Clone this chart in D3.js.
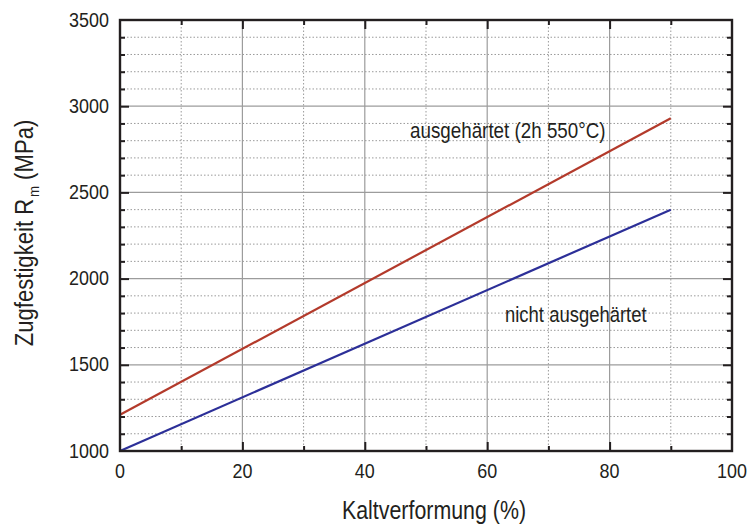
<!DOCTYPE html>
<html>
<head>
<meta charset="utf-8">
<script src="https://cdn.jsdelivr.net/npm/d3@7"></script>
<style>
  html, body { margin: 0; padding: 0; background: #fff; }
  svg { display: block; }
  text { font-family: "Liberation Sans", Arial, sans-serif; fill: #231f20; }
</style>
</head>
<body>
<svg id="chart" width="748" height="524"></svg>
<script>
// ---- data ----
const strain = [0, 90];                    // Kaltverformung (%)
const hardened = [1210, 2930];             // ausgehärtet (2h 550°C)
const notHardened = [1000, 2400];          // nicht ausgehärtet
const xTickLabels = [0, 20, 40, 60, 80, 100];
const yTickLabels = [1000, 1500, 2000, 2500, 3000, 3500];
const xMinorTicks = [10, 30, 50, 70, 90];
const yMinorTicks = d3.range(1100, 3500, 100).filter(v => v % 500 !== 0);
const xMajorInner = [20, 40, 60, 80];
const yMajorInner = [1500, 2000, 2500, 3000];

const svg = d3.select("#chart");
const L = 120, R = 732, T = 20, B = 451;
const x = d3.scaleLinear().domain([0, 100]).range([L, R]);
const y = d3.scaleLinear().domain([1000, 3500]).range([B, T]);
const SX = 0.855;
const ink = "#231f20";

// grid
const grid = svg.append("g");
grid.selectAll(".ym").data(yMinorTicks).join("line")
  .attr("x1", L).attr("x2", R).attr("y1", d => y(d)).attr("y2", d => y(d))
  .attr("stroke", "#9a9a9a").attr("stroke-width", 1).attr("stroke-dasharray", "1.5,2");
grid.selectAll(".xm").data(xMinorTicks).join("line")
  .attr("y1", T).attr("y2", B).attr("x1", d => x(d)).attr("x2", d => x(d))
  .attr("stroke", "#9a9a9a").attr("stroke-width", 1).attr("stroke-dasharray", "1.5,2");
grid.selectAll(".yM").data(yMajorInner).join("line")
  .attr("x1", L).attr("x2", R).attr("y1", d => y(d)).attr("y2", d => y(d))
  .attr("stroke", "#9c9c9c").attr("stroke-width", 1.2);
grid.selectAll(".xM").data(xMajorInner).join("line")
  .attr("y1", T).attr("y2", B).attr("x1", d => x(d)).attr("x2", d => x(d))
  .attr("stroke", "#9c9c9c").attr("stroke-width", 1.2);

// data lines
const line = d3.line().x((d, i) => x(strain[i])).y(d => y(d));
svg.append("path").datum(hardened).attr("d", line)
  .attr("fill", "none").attr("stroke", "#b33a2b").attr("stroke-width", 2.2);
svg.append("path").datum(notHardened).attr("d", line)
  .attr("fill", "none").attr("stroke", "#2c2f98").attr("stroke-width", 2.2);

// ticks (inward) via d3 axes
function ticks(axisGen, vals, size, tx, ty) {
  const g = svg.append("g").attr("transform", `translate(${tx},${ty})`)
    .call(axisGen.tickValues(vals).tickSize(-size).tickFormat(""));
  g.select(".domain").remove();
  g.selectAll("line").attr("stroke", ink).attr("stroke-width", 2);
}
ticks(d3.axisLeft(y), yMinorTicks, 5, L, 0);
ticks(d3.axisLeft(y), yMajorInner, 9, L, 0);
ticks(d3.axisRight(y), yMinorTicks, 5, R, 0);
ticks(d3.axisRight(y), yMajorInner, 9, R, 0);
ticks(d3.axisBottom(x), xMinorTicks, 5, 0, B);
ticks(d3.axisBottom(x), xMajorInner, 9, 0, B);
ticks(d3.axisTop(x), xMinorTicks, 5, 0, T);
ticks(d3.axisTop(x), xMajorInner, 9, 0, T);

// frame
svg.append("rect").attr("x", L).attr("y", T).attr("width", R - L).attr("height", B - T)
  .attr("fill", "none").attr("stroke", ink).attr("stroke-width", 2.4);

// text helper (condensed look)
function label(px, py, str, size, anchor, sx) {
  return svg.append("text")
    .attr("transform", `translate(${px},${py}) scale(${sx},1)`)
    .attr("font-size", size).attr("text-anchor", anchor).text(str);
}

// tick labels
yTickLabels.forEach(v => label(109, y(v) + 6.5, String(v), 21, "end", SX));
xTickLabels.forEach(v => label(x(v), 478, String(v), 21, "middle", SX));

// axis titles
label(434, 519, "Kaltverformung (%)", 25, "middle", SX);
const yt = svg.append("text")
  .attr("transform", `translate(33,233) rotate(-90) scale(0.885,1)`)
  .attr("font-size", 25).attr("text-anchor", "middle");
yt.append("tspan").text("Zugfestigkeit R");
yt.append("tspan").attr("font-size", 15).attr("dy", 6).attr("dx", 2).text("m");
yt.append("tspan").attr("dy", -6).text(" (MPa)");

// annotations
label(410, 138, "ausgehärtet (2h 550°C)", 22, "start", SX);
label(505, 322, "nicht ausgehärtet", 22, "start", 0.84);
</script>
</body>
</html>
